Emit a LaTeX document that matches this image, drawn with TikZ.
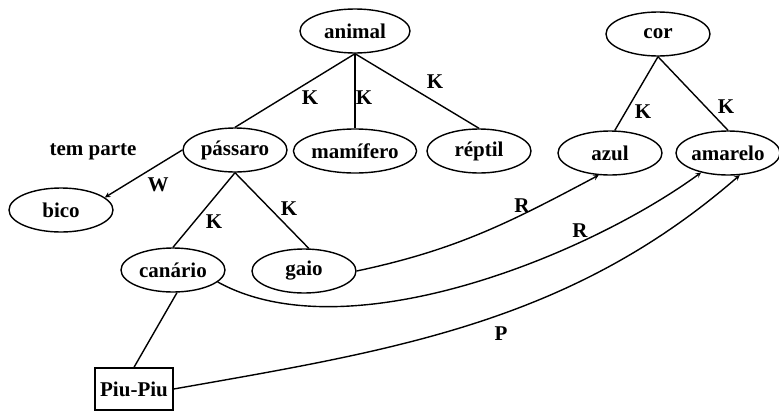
\documentclass[tikz,border=0pt]{standalone}
\usepackage{fontspec}
\setmainfont{Liberation Serif}
\usetikzlibrary{shapes.geometric}

\tikzset{
  conceito/.style={draw, ellipse, inner sep=0pt, minimum width=104pt, minimum height=44pt},
  objeto/.style={draw, rectangle, inner sep=0pt, minimum width=78pt, minimum height=42pt},
  rotulo/.style={inner sep=1pt},
  seta/.style={-stealth}
}

\begin{document}
\begin{tikzpicture}[x=1pt, y=-1pt, line width=1.4pt, font=\fontsize{21}{24}\selectfont\bfseries]
      \useasboundingbox (0,0) rectangle (779,410);
      % conceitos
      \node[conceito, minimum width=110pt] (animal) at (355,31) {animal};
      \node[conceito] (passaro) at (235,150) {pássaro};
      \node[conceito] (mamifero) at (355,151) {mamífero};
      \node[conceito] (reptil) at (479,151) {réptil};
      \node[conceito] (cor) at (658,34) {cor};
      \node[conceito] (azul) at (610,153) {azul};
      \node[conceito] (amarelo) at (728,153) {amarelo};
      \node[conceito] (bico) at (61,210) {bico};
      \node[conceito] (canario) at (173,270) {canário};
      \node[conceito] (gaio) at (304,271) {gaio};
      % individuo
      \node[objeto] (piupiu) at (134,389) {Piu-Piu};
      \node[rotulo] (temparte) at (93,152) {tem parte};
      % hierarquia
      \draw (animal.south) -- (passaro.north);
      \draw (animal.south) -- (mamifero.north);
      \draw (animal.south) -- (reptil.north);
      \draw (cor.south) -- (azul.78);
      \draw (cor.south) -- (amarelo.north);
      \draw (passaro.south) -- (canario.north);
      \draw (passaro.south) -- (gaio.78);
      \draw (canario.-80) -- (piupiu.north);
      % parte
      \draw[seta] (passaro.west) -- (bico.16);
      % relacoes
      \draw[seta] (gaio.east) to[out=12, in=208] (azul.-117);
      \draw[seta] (canario.-15) to[out=-29, in=216, looseness=0.75] (amarelo.-144);
      \draw[seta] (piupiu.east) to[out=10, in=221, looseness=0.95] (amarelo.-62);
      % rotulos
      \node[rotulo] (k1) at (310,98) {K};
      \node[rotulo] (k2) at (364,98) {K};
      \node[rotulo] (k3) at (435,82) {K};
      \node[rotulo] (k4) at (643,112) {K};
      \node[rotulo] (k5) at (726,107) {K};
      \node[rotulo] (k6) at (214,222) {K};
      \node[rotulo] (k7) at (289,209) {K};
      \node[rotulo] (w1) at (158,185) {W};
      \node[rotulo] (r1) at (522,206) {R};
      \node[rotulo] (r2) at (580,231) {R};
      \node[rotulo] (p1) at (501,334) {P};
\end{tikzpicture}
\end{document}
